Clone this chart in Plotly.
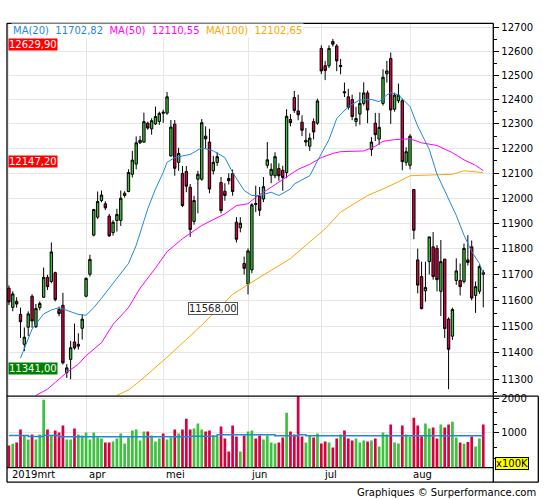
import math

import pandas as pd
import plotly.graph_objects as go

# DAX daily candles, 4 Mar - 28 Aug 2019 (exchange holidays left out)
holidays = ["2019-04-19", "2019-04-22", "2019-05-01", "2019-06-10"]
dates = [d for d in pd.bdate_range("2019-03-04", "2019-08-28")
         if d.strftime("%Y-%m-%d") not in holidays]

opens = [11647, 11573, 11596, 11546, 11432, 11497, 11616, 11499, 11572, 11612,
         11689, 11673, 11707, 11565, 11581, 11325, 11375, 11441, 11425, 11493,
         11616, 11701, 11854, 11925, 11991, 11978, 11929, 11864, 11912, 11912,
         12011, 12027, 12096, 12137, 12223, 12226, 12303, 12280, 12300, 12310,
         12348, 12344, 12170, 12299, 12144, 12099, 12107, 12044, 11908, 12076,
         12076, 12250, 12226, 12110, 12144, 12063, 12028, 12079, 12099, 11905,
         11883, 11743, 11663, 11718, 11979, 12008, 11997, 12132, 12092, 12090,
         12119, 12112, 12103, 12318, 12408, 12353, 12307, 12226, 12209, 12309,
         12303, 12612, 12540, 12540, 12641, 12622, 12536, 12432, 12411, 12400,
         12310, 12340, 12384, 12427, 12196, 12303, 12238, 12384, 12506, 12570,
         12360, 12395, 12395, 12144, 12132, 12035, 11757, 11692, 11637, 11750,
         11808, 11802, 11635, 11760, 11528, 11463, 11677, 11677, 11673, 11757,
         11808, 11619, 11635, 11708]
highs = [11658, 11635, 11612, 11572, 11496, 11558, 11623, 11586, 11596, 11727,
         11699, 11825, 11711, 11576, 11629, 11357, 11445, 11511, 11474, 11547,
         11689, 11777, 11958, 12027, 12031, 11988, 11938, 11913, 11958, 12031,
         12028, 12116, 12190, 12249, 12251, 12346, 12309, 12323, 12371, 12350,
         12358, 12431, 12316, 12316, 12203, 12129, 12129, 12057, 12010, 12110,
         12320, 12290, 12280, 12170, 12185, 12085, 12060, 12100, 12115, 11925,
         11925, 11770, 11802, 11980, 12050, 12045, 12085, 12226, 12140, 12185,
         12140, 12130, 12360, 12340, 12435, 12420, 12335, 12283, 12262, 12322,
         12403, 12625, 12560, 12625, 12652, 12630, 12568, 12470, 12444, 12420,
         12370, 12430, 12471, 12437, 12246, 12345, 12345, 12525, 12560, 12595,
         12428, 12466, 12404, 12205, 12258, 12037, 11801, 11750, 11750, 11847,
         11866, 11815, 11835, 11760, 11535, 11572, 11763, 11743, 11821, 11854,
         11833, 11673, 11740, 11718]
lows = [11582, 11558, 11572, 11456, 11406, 11463, 11495, 11494, 11562, 11609,
        11640, 11666, 11596, 11539, 11356, 11305, 11300, 11412, 11412, 11450,
        11612, 11692, 11849, 11918, 11984, 11953, 11847, 11852, 11868, 11890,
        12003, 12024, 12083, 12116, 12218, 12223, 12276, 12256, 12296, 12296,
        12304, 12337, 12167, 12090, 12110, 11965, 12024, 11847, 11895, 11940,
        12070, 12200, 12020, 12095, 12130, 11940, 11990, 12055, 12010, 11825,
        11865, 11700, 11623, 11705, 11945, 11930, 11985, 12120, 12060, 12080,
        12070, 12030, 12080, 12290, 12345, 12315, 12250, 12209, 12190, 12237,
        12296, 12505, 12480, 12530, 12620, 12517, 12504, 12410, 12358, 12315,
        12290, 12296, 12375, 12303, 12170, 12230, 12215, 12375, 12470, 12300,
        12350, 12385, 12112, 12130, 12116, 11838, 11627, 11566, 11595, 11700,
        11680, 11635, 11540, 11456, 11263, 11449, 11660, 11619, 11665, 11735,
        11600, 11552, 11625, 11573]
closes = [11594, 11625, 11586, 11518, 11459, 11548, 11521, 11569, 11588, 11689,
          11653, 11788, 11603, 11549, 11362, 11343, 11419, 11418, 11432, 11528,
          11685, 11759, 11955, 11987, 12013, 11962, 11851, 11905, 11936, 12000,
          12020, 12103, 12153, 12223, 12233, 12309, 12283, 12313, 12330, 12343,
          12344, 12411, 12287, 12120, 12180, 11971, 12048, 11876, 11991, 12096,
          12305, 12239, 12037, 12144, 12167, 11951, 12011, 12070, 12027, 11838,
          11901, 11724, 11792, 11974, 11976, 11952, 12046, 12154, 12116, 12167,
          12090, 12083, 12331, 12305, 12355, 12337, 12274, 12233, 12242, 12267,
          12394, 12518, 12520, 12612, 12630, 12560, 12541, 12428, 12368, 12330,
          12322, 12384, 12427, 12357, 12226, 12256, 12286, 12492, 12518, 12357,
          12418, 12418, 12147, 12187, 12250, 11873, 11659, 11568, 11650, 11847,
          11692, 11680, 11750, 11492, 11413, 11565, 11714, 11653, 11802, 11747,
          11609, 11653, 11731, 11701]
# volume in units of 100K
volumes = [637, 686, 723, 1094, 923, 809, 951, 809, 951, 1951,
           1094, 923, 1066, 1009, 1209, 809, 809, 1123, 951, 923,
           1009, 809, 1009, 866, 837, 723, 723, 751, 837, 980,
           694, 866, 1066, 1094, 780, 1037, 1037, 923, 751, 837,
           980, 809, 866, 1094, 980, 1094, 1409, 1094, 1123, 1266,
           1094, 1037, 1066, 923, 894, 1180, 837, 466, 1209, 894,
           466, 923, 1037, 1066, 837, 923, 809, 923, 723, 694,
           723, 866, 1580, 1037, 951, 2200, 894, 723, 923, 866,
           980, 694, 750, 723, 580, 837, 951, 1066, 837, 780,
           837, 723, 780, 751, 780, 837, 609, 1009, 951, 1237,
           723, 694, 1209, 951, 894, 1437, 1209, 900, 1266, 1123,
           1151, 837, 1237, 1151, 1237, 1323, 866, 723, 686, 733,
           894, 609, 837, 1237]

# moving averages, read at a set of candle positions
ma20_idx = [3, 6, 9, 11, 13, 15, 18, 20, 22, 24, 26, 31, 33, 36, 38, 40, 41, 43,
            45, 47, 50, 53, 56, 58, 61, 63, 65, 68, 70, 73, 74, 78, 80, 83, 85,
            88, 91, 94, 96, 98, 99, 101, 104, 106, 109, 111, 114, 116, 118, 120,
            122, 123]
ma20_val = [11380, 11490, 11548, 11563, 11572, 11561, 11546, 11543, 11572, 11608,
            11647, 11743, 11814, 11958, 12037, 12103, 12144, 12163, 12170, 12176,
            12203, 12190, 12163, 12103, 12031, 12011, 12011, 12024, 12011, 12037,
            12057, 12090, 12150, 12236, 12322, 12371, 12398, 12400, 12391, 12419,
            12428, 12419, 12371, 12291, 12196, 12096, 11997, 11932, 11854, 11789,
            11743, 11702.82]
ma50_idx = [7, 10, 12, 15, 18, 20, 24, 27, 31, 34, 38, 41, 45, 48, 50, 56, 59,
            62, 64, 68, 71, 75, 78, 81, 84, 86, 92, 95, 97, 100, 104, 107, 111,
            115, 118, 121, 123]
ma50_val = [11240, 11263, 11288, 11326, 11357, 11389, 11438, 11508, 11572, 11647,
            11725, 11789, 11840, 11872, 11892, 11938, 11971, 11978, 12004, 12044,
            12076, 12116, 12136, 12163, 12180, 12187, 12190, 12209, 12229, 12236,
            12239, 12223, 12212, 12183, 12154, 12132, 12110.55]
ma100_idx = [28, 31, 34, 42, 50, 58, 64, 73, 77, 82, 86, 90, 93, 97, 100, 101,
             104, 111, 115, 118, 123]
ma100_val = [11240, 11260, 11294, 11396, 11505, 11623, 11680, 11762, 11814, 11879,
             11945, 11984, 12011, 12037, 12057, 12066, 12090, 12092, 12096, 12110,
             12102.65]
# average volume (stepped)
vol_avg_idx = [0, 5, 9, 13, 47, 54, 69, 75, 77, 123]
vol_avg_val = [923, 894, 923, 885, 904, 942, 914, 942, 914, 914]

# horizontal levels drawn on the chart
level_high = 12629.90
level_mid = 12147.20
level_dash = 11568.00
level_low = 11341.00

price_ticks = list(range(11300, 12701, 100))
price_minor = list(range(11250, 12701, 100))
month_names = ["2019mrt", "apr", "mei", "jun", "jul", "aug"]

GREEN = "#3cc23c"
RED = "#d9003f"
BLUE = "#1f88dc"
MAGENTA = "#ff00ff"
ORANGE = "#ffa500"
GRID = "#e6e6e6"
FONT = "DejaVu Sans"

W, H = 545, 500
LEFT, RIGHT, OUTER = 7, 493.3, 538.3
TOP, SPLIT, VBOT, BOTTOM = 19.5, 395.3, 467.3, 482


def px(x):
    return x / W


def py(y):
    return 1 - y / H


def fmt(v):
    return f"{v:.2f}".replace(".", ",")


idx = list(range(len(dates)))
month_idx = [i for i, d in enumerate(dates) if i == 0 or d.month != dates[i - 1].month]
vol_colors = [GREEN if c >= o else RED for o, c in zip(opens, closes)]

fig = go.Figure()

fig.add_trace(go.Candlestick(
    x=idx, open=opens, high=highs, low=lows, close=closes,
    xaxis="x", yaxis="y", whiskerwidth=0,
    increasing=dict(fillcolor=GREEN, line=dict(color="black", width=1)),
    decreasing=dict(fillcolor=RED, line=dict(color="black", width=1)),
    showlegend=False, hoverinfo="skip",
))
for xs, ys, col in [(ma100_idx, ma100_val, ORANGE),
                    (ma50_idx, ma50_val, MAGENTA),
                    (ma20_idx, ma20_val, BLUE)]:
    fig.add_trace(go.Scatter(x=xs, y=ys, mode="lines", xaxis="x", yaxis="y",
                             line=dict(color=col, width=1), showlegend=False,
                             hoverinfo="skip"))

fig.add_trace(go.Bar(x=idx, y=volumes, xaxis="x2", yaxis="y2",
                     marker=dict(color=vol_colors, line=dict(width=0)),
                     showlegend=False, hoverinfo="skip"))
fig.add_trace(go.Scatter(x=vol_avg_idx, y=vol_avg_val, mode="lines",
                         line=dict(color=BLUE, width=1.5, shape="hv"),
                         xaxis="x2", yaxis="y2", showlegend=False,
                         hoverinfo="skip"))

xrange = [-0.5, 125.6]
common_x = dict(domain=[px(LEFT), px(RIGHT)], range=xrange, showticklabels=False,
                tickmode="array", tickvals=month_idx, ticks="", showgrid=True,
                gridcolor=GRID, gridwidth=1, zeroline=False, showline=False,
                fixedrange=True)
tickfont = dict(family=FONT, size=10, color="black")

fig.update_layout(
    width=W, height=H,
    margin=dict(l=0, r=0, t=0, b=0),
    paper_bgcolor="white", plot_bgcolor="white",
    bargap=0.3, boxgap=0.12,
    xaxis=dict(anchor="y", rangeslider=dict(visible=False), **common_x),
    xaxis2=dict(anchor="y2", **common_x),
    yaxis=dict(
        type="log", anchor="x", side="right",
        domain=[py(SPLIT), py(TOP)],
        range=[math.log10(11237), math.log10(12717.5)],
        tickmode="array", tickvals=price_ticks,
        ticktext=[str(t) for t in price_ticks],
        ticks="outside", ticklen=5, tickcolor="black", tickwidth=1,
        tickfont=tickfont, showgrid=True, gridcolor=GRID, zeroline=False,
        minor=dict(tickmode="array", tickvals=price_minor, ticks="outside",
                   ticklen=3, tickcolor="black", showgrid=False),
        fixedrange=True,
    ),
    yaxis2=dict(
        anchor="x2", side="right",
        domain=[py(VBOT), py(SPLIT)],
        range=[0, 2057],
        tickmode="array", tickvals=[1000, 2000], ticktext=["1000", "2000"],
        ticks="outside", ticklen=5, tickcolor="black", tickwidth=1,
        tickfont=tickfont, showgrid=True, gridcolor=GRID, zeroline=False,
        minor=dict(tickmode="array", tickvals=[257, 589, 1246, 1600],
                   ticks="outside", ticklen=3, tickcolor="black",
                   showgrid=False),
        fixedrange=True,
    ),
)

# frame lines
frame = [
    (LEFT, TOP, RIGHT, TOP), (LEFT, TOP, LEFT, BOTTOM), (RIGHT, TOP, RIGHT, BOTTOM),
    (LEFT, SPLIT, OUTER, SPLIT), (LEFT, VBOT, RIGHT, VBOT),
    (LEFT, BOTTOM, OUTER, BOTTOM), (OUTER, SPLIT, OUTER, BOTTOM),
]
for x0, y0, x1, y1 in frame:
    fig.add_shape(type="line", xref="paper", yref="paper",
                  x0=px(x0), y0=py(y0), x1=px(x1), y1=py(y1),
                  line=dict(color="black", width=1.3), layer="above")

# level lines (log axis -> positions in log10)
for lvl, col, wdt, dash, x0 in [(level_high, "#ff0000", 2.5, "solid", LEFT),
                                (level_mid, "#ff0000", 1, "solid", LEFT),
                                (level_low, "#008000", 2.5, "solid", LEFT),
                                (level_dash, "#333333", 1, "dash", 238)]:
    fig.add_shape(type="line", xref="paper", yref="y",
                  x0=px(x0), x1=px(RIGHT),
                  y0=math.log10(lvl), y1=math.log10(lvl),
                  line=dict(color=col, width=wdt, dash=dash), layer="above")

for lvl, bg in [(level_high, "#ff0000"), (level_mid, "#ff0000"), (level_low, "#008000")]:
    fig.add_annotation(xref="paper", yref="y", x=px(LEFT + 0.7), y=math.log10(lvl),
                       xanchor="left", yanchor="middle", text=fmt(lvl),
                       showarrow=False, bgcolor=bg, borderpad=0,
                       font=dict(family=FONT, size=10, color="white"))
fig.add_annotation(xref="paper", yref="y", x=px(188), y=math.log10(level_dash),
                   xanchor="left", yanchor="middle", text=fmt(level_dash),
                   showarrow=False, bgcolor="white", bordercolor="#555555",
                   borderwidth=1, borderpad=0,
                   font=dict(family=FONT, size=10, color="#222222"))

# moving average caption
sp = "\u00a0\u00a0"
caption = (f"<span style='color:{BLUE}'>MA(20){sp}{fmt(ma20_val[-1])}</span>{sp}"
           f"<span style='color:{MAGENTA}'>MA(50){sp}{fmt(ma50_val[-1])}</span>{sp}"
           f"<span style='color:{ORANGE}'>MA(100){sp}{fmt(ma100_val[-1])}</span>")
fig.add_annotation(xref="paper", yref="paper", x=px(11), y=py(27),
                   xanchor="left", yanchor="middle", text=caption,
                   showarrow=False, bgcolor="white", borderpad=1,
                   font=dict(family=FONT, size=10))

# month labels in the strip under the volume panel
for name, m in zip(month_names, month_idx):
    fig.add_annotation(xref="x2", yref="paper", x=m, y=py(474.7), xshift=1,
                       xanchor="left", yanchor="middle", text=name,
                       showarrow=False, font=dict(family=FONT, size=10, color="black"))

fig.add_annotation(xref="paper", yref="paper", x=px(494.5), y=py(463.7),
                   xanchor="left", yanchor="middle", text="x100K",
                   showarrow=False, bgcolor="#ffff00", bordercolor="black",
                   borderwidth=1, borderpad=0,
                   font=dict(family=FONT, size=10, color="black"))
fig.add_annotation(xref="paper", yref="paper", x=px(538), y=py(492.5),
                   xanchor="right", yanchor="middle",
                   text="Graphiques \u00a9 Surperformance.com",
                   showarrow=False, font=dict(family=FONT, size=10, color="black"))

# page margin off so the 545x500 figure fills the window; no modebar
fig.write_html("out.html", config={"displayModeBar": False},
               post_script="document.body.style.margin='0';")
